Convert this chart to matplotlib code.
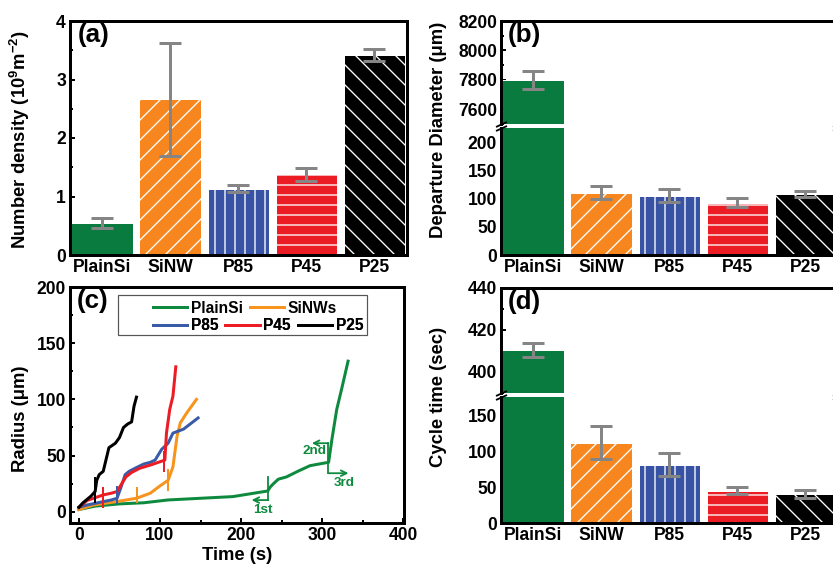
import matplotlib
matplotlib.use("Agg")
import matplotlib.pyplot as plt
from matplotlib.patches import Rectangle
from matplotlib.lines import Line2D
from matplotlib.ticker import MultipleLocator, FixedLocator

# ---------------- data ----------------
categories = ['PlainSi', 'SiNW', 'P85', 'P45', 'P25']
bar_colors = ['#0a7b3e', '#f7861e', '#3953a4', '#ec1c24', '#000000']
bar_hatches = ['', '//', '||', '--', '\\\\']

density_vals = [0.54, 2.66, 1.13, 1.38, 3.42]
density_errs = [0.085, 0.965, 0.06, 0.11, 0.10]

diameter_vals = [7800, 110, 105, 93, 107.5]
diameter_errs = [60, 11.5, 11.5, 8.5, 5.5]

cycle_vals = [410.4, 111.3, 81, 45, 40.5]
cycle_errs = [3.2, 23, 16, 4.5, 5.8]

# panel (c) growth curves
plain_t = [0, 20, 50, 80, 110, 150, 190, 233, 236, 240, 246, 256, 270, 285, 300, 308, 312, 318, 324, 332]
plain_r = [2, 5, 7, 8, 10.5, 12, 13.5, 18.5, 22, 25, 29, 31, 36, 41, 43, 44, 64, 91, 109, 134]
sinw_t = [0, 18, 46, 71, 88, 100, 110, 116, 121, 125, 133, 145]
sinw_r = [2, 6, 9, 12, 16.5, 23, 28, 40, 67, 79, 88, 100]
p85_t = [0, 10, 20, 30, 40, 47, 52, 57, 62, 70, 80, 88, 94, 102, 110, 116, 129, 147]
p85_r = [4, 6, 7.5, 9, 10.5, 12, 22, 33, 36, 39, 42.5, 44, 46, 55.5, 61, 70, 73.5, 83.5]
p45_t = [0, 10, 20, 30, 40, 47, 52, 58, 65, 75, 90, 106, 108, 112, 116, 119.5]
p45_r = [4, 10, 12.5, 15, 16.5, 18, 24, 31, 35, 38.7, 42, 46, 70, 91, 103, 129]
p25_t = [0, 5, 10, 15, 20, 22, 25, 30, 33, 37, 45, 50, 55, 60, 65, 68, 71]
p25_r = [4, 8, 11, 14, 18, 28, 33, 36, 45, 57, 61, 66, 75, 78, 80, 94, 102]

# departure tick marks on curves: (series, t, r_low, r_high)
curve_ticks = [('P25', 20, 9, 30), ('P45', 30, 4.5, 21), ('P45', 105, 36, 53),
               ('P85', 47, 8, 22), ('SiNWs', 72, 8.5, 21.5), ('SiNWs', 110, 19.5, 37)]

# annotations on PlainSi: label, vertical segment t, r_from, r_to, arrow end t, label pos
annot_labels = ['1st', '2nd', '3rd']
annot_t = [233.7, 307.7, 307.7]
annot_r0 = [31.3, 43.8, 43.8]
annot_r1 = [10.4, 61.0, 34.3]
annot_tend = [213.0, 287.3, 332.5]
annot_lab_t = [226.5, 291.0, 327.0]
annot_lab_r = [1.5, 54.0, 25.4]

# ---------------- style ----------------
DPI = 120
W, H = 833, 567
PT = 72.0 / DPI
plt.rcParams['font.family'] = ['Liberation Sans', 'DejaVu Sans']
plt.rcParams['font.weight'] = 'bold'
plt.rcParams['axes.labelweight'] = 'bold'
plt.rcParams['mathtext.default'] = 'regular'
plt.rcParams['hatch.linewidth'] = 0.8

TICK_FS = 17.5 * PT
CAT_FS = 18 * PT
LAB_FS = 18.5 * PT
PANEL_FS = 26 * PT
SPINE_W = 3 * PT

fig = plt.figure(figsize=(W / DPI, H / DPI), dpi=DPI)


def rect(l, t, r, b):
    return [l / W, 1 - b / H, (r - l) / W, (b - t) / H]


def style_axes(ax, left_ticks=True, bottom_ticks=False):
    for s in ax.spines.values():
        s.set_linewidth(SPINE_W)
    ax.tick_params(axis='both', which='both', direction='in', labelsize=TICK_FS,
                   width=2 * PT, pad=4 * PT)
    ax.tick_params(axis='both', which='major', length=5 * PT)
    ax.tick_params(axis='both', which='minor', length=3 * PT)
    ax.tick_params(axis='y', left=left_ticks, right=False)
    ax.tick_params(axis='x', bottom=bottom_ticks, top=False)
    for lab in ax.get_xticklabels() + ax.get_yticklabels():
        lab.set_fontweight('bold')


x = list(range(len(categories)))
XLIM = (-0.47, 4.48)
BAR_W = 0.9
ERR_KW = dict(fmt='none', ecolor='#858585', elinewidth=3 * PT, capsize=11 * PT,
              capthick=3 * PT, zorder=4)


def draw_bars(ax, vals, errs):
    for xi, v, c, h in zip(x, vals, bar_colors, bar_hatches):
        ax.bar(xi, v, width=BAR_W, color=c, edgecolor='white', linewidth=1 * PT,
               hatch=h, zorder=2)
    ax.errorbar(x, vals, yerr=errs, **ERR_KW)
    ax.set_xlim(*XLIM)


def cat_labels(ax):
    ax.set_xticks(x)
    ax.set_xticklabels(categories, fontsize=CAT_FS, fontweight='bold')
    ax.tick_params(axis='x', length=0, pad=5 * PT)


# ---------------- panel (a) ----------------
axa = fig.add_axes(rect(70, 21, 407, 255))
draw_bars(axa, density_vals, density_errs)
axa.set_ylim(0, 4)
axa.yaxis.set_major_locator(MultipleLocator(1))
axa.yaxis.set_minor_locator(MultipleLocator(0.5))
cat_labels(axa)
style_axes(axa)
fig.text(20 / W, 1 - 140 / H, r'Number density (10$^9$m$^{-2}$)', rotation=90,
         ha='center', va='center', fontsize=LAB_FS, fontweight='bold')
fig.text(94 / W, 1 - 35 / H, '(a)', ha='center', va='center', fontsize=PANEL_FS,
         fontweight='bold')


# ---------------- broken bar panels ----------------
def broken(top_rect, bot_rect, vals, errs, up_lim, lo_lim, up_major, up_minor,
           lo_major, lo_minor):
    up = fig.add_axes(rect(*top_rect))
    lo = fig.add_axes(rect(*bot_rect))
    draw_bars(up, vals, errs)
    draw_bars(lo, vals, errs)
    up.set_ylim(*up_lim)
    lo.set_ylim(*lo_lim)
    up.yaxis.set_major_locator(FixedLocator(up_major))
    up.yaxis.set_minor_locator(FixedLocator(up_minor))
    lo.yaxis.set_major_locator(FixedLocator(lo_major))
    lo.yaxis.set_minor_locator(FixedLocator(lo_minor))
    up.spines['bottom'].set_visible(False)
    lo.spines['top'].set_visible(False)
    up.set_xticks([])
    cat_labels(lo)
    style_axes(up)
    style_axes(lo)
    up.tick_params(axis='x', bottom=False, labelbottom=False)
    mk = dict(marker=[(-1, -0.45), (1, 0.45)], markersize=11 * PT, linestyle='none',
              color='k', mec='k', mew=1.8 * PT, clip_on=False, zorder=10)
    for xx in (0, 1):
        up.plot([xx], [0], transform=up.transAxes, **mk)
        lo.plot([xx], [1], transform=lo.transAxes, **mk)
    return up, lo


bu, bl = broken((501, 21, 838, 124), (501, 128, 838, 255), diameter_vals, diameter_errs,
                (7500, 8200), (0, 225), [7600, 7800, 8000, 8200], [7500, 7700, 7900, 8100],
                [0, 50, 100, 150, 200], [25, 75, 125, 175, 225])
fig.text(438 / W, 1 - 130 / H, 'Departure Diameter (μm)', rotation=90, ha='center',
         va='center', fontsize=LAB_FS, fontweight='bold')
fig.text(524 / W, 1 - 35 / H, '(b)', ha='center', va='center', fontsize=PANEL_FS,
         fontweight='bold')

du, dl = broken((501, 288, 838, 393), (501, 397, 838, 523), cycle_vals, cycle_errs,
                (390, 440), (0, 175), [400, 420, 440], [390, 410, 430],
                [0, 50, 100, 150], [25, 75, 125, 175])
fig.text(438 / W, 1 - 397 / H, 'Cycle time (sec)', rotation=90, ha='center',
         va='center', fontsize=LAB_FS, fontweight='bold')
fig.text(524 / W, 1 - 302 / H, '(d)', ha='center', va='center', fontsize=PANEL_FS,
         fontweight='bold')

# ---------------- panel (c) ----------------
axc = fig.add_axes(rect(70, 287, 404, 523))
line_colors = {'PlainSi': '#0e8a3e', 'SiNWs': '#f7941d', 'P85': '#3a5ba8',
               'P45': '#ed1c24', 'P25': '#000000'}
series = {'PlainSi': (plain_t, plain_r), 'SiNWs': (sinw_t, sinw_r),
          'P85': (p85_t, p85_r), 'P45': (p45_t, p45_r), 'P25': (p25_t, p25_r)}
LW = 3 * PT
handles = {}
for name in ['PlainSi', 'SiNWs', 'P85', 'P45', 'P25']:
    tt, rr = series[name]
    ln, = axc.plot(tt, rr, color=line_colors[name], lw=LW, solid_joinstyle='round',
                   label=name, zorder=3)
    handles[name] = ln
for name, tt, r0, r1 in curve_ticks:
    axc.plot([tt, tt], [r0, r1], color=line_colors[name], lw=2 * PT, zorder=3)

g = line_colors['PlainSi']
for lab, tt, r0, r1, te, lt, lr in zip(annot_labels, annot_t, annot_r0, annot_r1,
                                       annot_tend, annot_lab_t, annot_lab_r):
    axc.plot([tt, tt], [r0, r1], color=g, lw=1.8 * PT, zorder=3)
    axc.annotate('', xy=(te, r1), xytext=(tt, r1),
                 arrowprops=dict(arrowstyle='->', color=g, lw=1.8 * PT,
                                 mutation_scale=14 * PT, shrinkA=0, shrinkB=0))
    axc.text(lt, lr, lab, color=g, fontsize=13.5 * PT, fontweight='bold',
             ha='center', va='center')

axc.set_xlim(-11, 401)
axc.set_ylim(-10, 200)
axc.xaxis.set_major_locator(MultipleLocator(100))
axc.xaxis.set_minor_locator(MultipleLocator(50))
axc.yaxis.set_major_locator(MultipleLocator(50))
axc.yaxis.set_minor_locator(MultipleLocator(25))
style_axes(axc, left_ticks=True, bottom_ticks=True)
axc.set_xlabel('Time (s)', fontsize=LAB_FS, fontweight='bold', labelpad=0)
axc.xaxis.set_label_coords(0.5, -(547 - 523) / 236, transform=axc.transAxes)
fig.text(20.5 / W, 1 - 419 / H, 'Radius (μm)', rotation=90, ha='center', va='center',
         fontsize=LAB_FS, fontweight='bold')
fig.text(92.5 / W, 1 - 301 / H, '(c)', ha='center', va='center', fontsize=PANEL_FS,
         fontweight='bold')

LEG_KW = dict(loc='center left', bbox_transform=axc.transAxes, frameon=False,
              borderpad=0, borderaxespad=0, handlelength=2.2, handletextpad=0.25,
              columnspacing=0.45, prop={'size': 15.5 * PT, 'weight': 'bold'})
leg1 = axc.legend(handles=[handles['PlainSi'], handles['SiNWs']], ncol=2,
                  bbox_to_anchor=(0.2485, 0.911), **LEG_KW)
axc.add_artist(leg1)
leg2 = axc.legend(handles=[handles['P85'], handles['P45'], handles['P25']], ncol=3,
                  bbox_to_anchor=(0.2485, 0.835), **LEG_KW)
axc.add_artist(leg2)
axc.add_patch(Rectangle((0.144, 0.797), 0.745, 0.169, transform=axc.transAxes,
                        fill=False, edgecolor='#555555', lw=1.2 * PT, zorder=5))

fig.savefig('out.png', dpi=DPI)
